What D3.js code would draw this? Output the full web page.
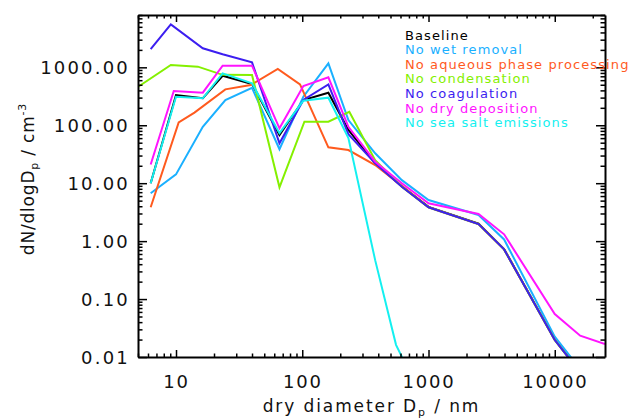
<!DOCTYPE html>
<html><head><meta charset="utf-8">
<script src="https://cdn.jsdelivr.net/npm/d3@7"></script>
<style>
html,body{margin:0;padding:0;background:#fff;}
svg{display:block;}
text{font-family:"DejaVu Sans",sans-serif;}
</style></head><body>
<svg id="chart" width="636" height="418"></svg>
<script>
// ---- data ----
const seriesNames = ["Baseline","No wet removal","No aqueous phase processing","No condensation","No coagulation","No dry deposition","No sea salt emissions"];
const seriesColors = ["#000000","#1ab0ff","#ff5a1e","#84f000","#3c1ef0","#ff14ff","#14f0f0"];

const dBaseline = [6.3, 10, 16.3, 23.4, 40, 66, 102, 161, 232, 378, 615, 1000, 2490, 3970, 10000, 15900];
const vBaseline = [10, 333, 292, 716, 515, 68, 273, 365, 83, 22.3, 8.8, 3.9, 2.0, 0.73, 0.020, 0.0055];

const dWet = [6.3, 10, 16.3, 24.6, 40, 66, 102, 161, 232, 378, 615, 1000, 2490, 3970, 10000, 15900];
const vWet = [6.7, 14.2, 94, 273, 444, 38.5, 311, 1173, 123, 32.8, 11.3, 5.13, 2.83, 1.07, 0.0224, 0.0062];

const dAqueous = [6.3, 10.5, 14, 24.6, 39, 64, 96, 161, 232, 378, 615, 1000, 2490, 3970, 10000, 15900];
const vAqueous = [3.84, 112, 165, 417, 494, 935, 508, 41.6, 37.4, 20.6, 9.0, 3.84, 1.97, 0.72, 0.0196, 0.0054];

const dCondensation = [4, 9.1, 14.9, 23.4, 40, 66, 104, 161, 236, 378, 615, 1000, 2490, 3970, 10000, 15900];
const vCondensation = [333, 1096, 1026, 741, 738, 8.5, 115, 115, 171, 25, 8.7, 3.84, 1.97, 0.72, 0.0196, 0.0054];

const dCoagulation = [6.3, 9.1, 16.3, 23.4, 40, 66, 102, 161, 232, 378, 615, 1000, 2490, 3970, 10000, 15900];
const vCoagulation = [2070, 5520, 2130, 1676, 1220, 48.8, 273, 508, 70, 22, 8.7, 3.84, 1.97, 0.72, 0.0196, 0.0054];

const dDryDep = [6.3, 9.6, 16.3, 23.4, 40, 66, 102, 161, 232, 378, 615, 1000, 2490, 3970, 10000, 15900, 25000];
const vDryDep = [21, 390, 365, 1066, 1066, 88.5, 476, 671, 94, 23.5, 9.96, 4.5, 2.94, 1.31, 0.055, 0.0233, 0.0167];

const dSeaSalt = [6.3, 10, 16.3, 23.4, 40, 66, 102, 161, 232, 378, 553, 650];
const vSeaSalt = [10, 311, 292, 787, 530, 73, 265, 299, 60, 0.47, 0.0162, 0.0079];

const xMajorTicks = [10, 100, 1000, 10000];
const xTickLabels = ["10", "100", "1000", "10000"];
const yMajorTicks = [0.01, 0.1, 1, 10, 100, 1000];
const yTickLabels = ["0.01", "0.10", "1.00", "10.00", "100.00", "1000.00"];
const xDomain = [5, 25000];
const yDomain = [0.01, 8000];

const seriesD = [dBaseline, dWet, dAqueous, dCondensation, dCoagulation, dDryDep, dSeaSalt];
const seriesV = [vBaseline, vWet, vAqueous, vCondensation, vCoagulation, vDryDep, vSeaSalt];

// ---- layout ----
const M = {left: 138, right: 605, top: 15, bottom: 357};
const svg = d3.select("#chart");
const x = d3.scaleLog().domain(xDomain).range([M.left, M.right]);
const y = d3.scaleLog().domain(yDomain).range([M.bottom, M.top]);

function minorTicks(dom) {
  const out = [];
  for (let e = -3; e <= 5; e++) for (let m = 2; m <= 9; m++) {
    const v = +(m * Math.pow(10, e)).toPrecision(6);
    if (v >= dom[0] * 0.9999 && v <= dom[1] * 1.0001) out.push(v);
  }
  return out;
}

svg.append("defs").append("clipPath").attr("id", "plotclip")
  .append("rect").attr("x", M.left).attr("y", M.top)
  .attr("width", M.right - M.left).attr("height", M.bottom - M.top);

// ---- lines ----
const line = d3.line().x(d => x(d[0])).y(d => y(d[1]));
const gLines = svg.append("g").attr("clip-path", "url(#plotclip)");
seriesNames.forEach((name, i) => {
  const pts = seriesD[i].map((d, j) => [d, seriesV[i][j]]);
  gLines.append("path").datum(pts)
    .attr("d", line).attr("fill", "none")
    .attr("stroke", seriesColors[i]).attr("stroke-width", 2)
    .attr("stroke-linejoin", "miter");
});

// ---- axes ----
const tickFont = 18;
function styleAxis(g) {
  g.select(".domain").attr("stroke", "#000").attr("stroke-width", 2);
  g.selectAll(".tick line").attr("stroke", "#000").attr("stroke-width", 1.5);
  g.attr("font-family", null).attr("font-size", null);
}
const xMinor = minorTicks(xDomain);
const yMinor = minorTicks(yDomain);

// bottom
const gb = svg.append("g").attr("transform", `translate(0,${M.bottom})`)
  .call(d3.axisBottom(x).tickValues(xMajorTicks).tickSizeInner(-7).tickSizeOuter(0)
    .tickFormat((d, i) => xTickLabels[i]));
styleAxis(gb);
gb.selectAll(".tick text").attr("y", 31).attr("dy", null)
  .attr("font-size", tickFont).attr("letter-spacing", 1.8).attr("fill", "#111");
svg.append("g").attr("transform", `translate(0,${M.bottom})`)
  .call(d3.axisBottom(x).tickValues(xMinor).tickSizeInner(-3.5).tickSizeOuter(0).tickFormat(""))
  .call(g => { g.select(".domain").remove(); g.selectAll(".tick line").attr("stroke", "#000").attr("stroke-width", 1.5); });

// top
const gt = svg.append("g").attr("transform", `translate(0,${M.top})`)
  .call(d3.axisTop(x).tickValues(xMajorTicks).tickSizeInner(-7).tickSizeOuter(0).tickFormat(""));
styleAxis(gt);
svg.append("g").attr("transform", `translate(0,${M.top})`)
  .call(d3.axisTop(x).tickValues(xMinor).tickSizeInner(-3.5).tickSizeOuter(0).tickFormat(""))
  .call(g => { g.select(".domain").remove(); g.selectAll(".tick line").attr("stroke", "#000").attr("stroke-width", 1.5); });

// left
const gl = svg.append("g").attr("transform", `translate(${M.left},0)`)
  .call(d3.axisLeft(y).tickValues(yMajorTicks).tickSizeInner(-9).tickSizeOuter(0).tickPadding(8)
    .tickFormat((d, i) => yTickLabels[i]));
styleAxis(gl);
gl.selectAll(".tick text").attr("x", -8).attr("dy", "0.36em")
  .attr("font-size", tickFont).attr("letter-spacing", 2.2).attr("fill", "#111");
svg.append("g").attr("transform", `translate(${M.left},0)`)
  .call(d3.axisLeft(y).tickValues(yMinor).tickSizeInner(-4.5).tickSizeOuter(0).tickFormat(""))
  .call(g => { g.select(".domain").remove(); g.selectAll(".tick line").attr("stroke", "#000").attr("stroke-width", 1.5); });

// right
const gr = svg.append("g").attr("transform", `translate(${M.right},0)`)
  .call(d3.axisRight(y).tickValues(yMajorTicks).tickSizeInner(-9).tickSizeOuter(0).tickFormat(""));
styleAxis(gr);
svg.append("g").attr("transform", `translate(${M.right},0)`)
  .call(d3.axisRight(y).tickValues(yMinor).tickSizeInner(-4.5).tickSizeOuter(0).tickFormat(""))
  .call(g => { g.select(".domain").remove(); g.selectAll(".tick line").attr("stroke", "#000").attr("stroke-width", 1.5); });

// ---- axis titles ----
const xt = svg.append("text").attr("x", (M.left + M.right) / 2).attr("y", 412)
  .attr("text-anchor", "middle").attr("font-size", 17).attr("letter-spacing", 1.9)
  .attr("fill", "#111").style("white-space", "pre");
xt.append("tspan").text("dry diameter D");
xt.append("tspan").attr("font-size", 11).attr("dy", 4).text("p");
xt.append("tspan").attr("dy", -4).text(" / nm");

const yt = svg.append("text").attr("transform", "translate(34,179) rotate(-90)")
  .attr("text-anchor", "middle").attr("font-size", 17).attr("letter-spacing", 0.8)
  .attr("fill", "#111").style("white-space", "pre");
yt.append("tspan").text("dN/dlogD");
yt.append("tspan").attr("font-size", 11).attr("dy", 4).text("p");
yt.append("tspan").attr("dy", -4).text(" / cm");
yt.append("tspan").attr("font-size", 11).attr("dy", -8).text("-3");

// ---- legend (coloured text) ----
const lg = svg.append("g");
seriesNames.forEach((name, i) => {
  lg.append("text").attr("x", 405).attr("y", 39.5 + i * 14.6)
    .attr("font-size", 13).attr("letter-spacing", 1.1)
    .attr("fill", seriesColors[i]).text(name);
});
</script>
</body></html>
